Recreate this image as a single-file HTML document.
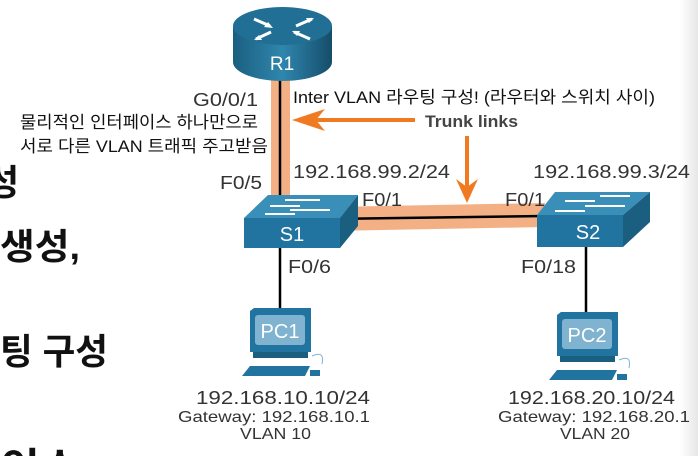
<!DOCTYPE html>
<html><head><meta charset="utf-8"><style>
html,body{margin:0;padding:0;background:#fff;width:698px;height:456px;overflow:hidden}
svg{display:block;overflow:hidden}
text{font-family:"Liberation Sans","Noto Sans CJK KR",sans-serif}
</style></head><body>
<svg width="698" height="456" viewBox="0 0 698 456" xmlns="http://www.w3.org/2000/svg">
<defs>
<linearGradient id="rb" x1="0" x2="1" y1="0" y2="0">
<stop offset="0" stop-color="#1b5f80"/><stop offset="0.5" stop-color="#2f86ad"/><stop offset="1" stop-color="#154d6a"/>
</linearGradient>
<linearGradient id="edge" x1="0" x2="1"><stop offset="0" stop-color="#fff"/><stop offset="1" stop-color="#e6e6e6"/></linearGradient>
</defs>
<rect x="680" y="0" width="18" height="456" fill="url(#edge)"/>
<g font-weight="bold" font-size="36" fill="#111">
<text x="-14" y="195">성</text>
<text x="0" y="259" textLength="80" lengthAdjust="spacingAndGlyphs">생성,</text>
<text x="0" y="364" textLength="108" lengthAdjust="spacingAndGlyphs">팅 구성</text>
<text x="0" y="478" textLength="80" lengthAdjust="spacingAndGlyphs">이스</text>
</g>
<rect x="271" y="80" width="19" height="125" fill="#f2b084"/>
<line x1="280" y1="80" x2="280" y2="205" stroke="#000" stroke-width="2.5"/>
<polygon points="330,207 545,203 545,227 330,231" fill="#f2b084"/>
<line x1="330" y1="219" x2="545" y2="216" stroke="#000" stroke-width="2.5"/>
<line x1="280" y1="245" x2="280" y2="310" stroke="#000" stroke-width="2.5"/>
<line x1="586" y1="245" x2="586" y2="313" stroke="#000" stroke-width="2.5"/>
<rect x="233" y="26" width="99" height="36" fill="url(#rb)"/>
<ellipse cx="282.5" cy="62" rx="49.5" ry="19" fill="url(#rb)"/>
<ellipse cx="282.5" cy="26" rx="49.5" ry="19" fill="#226f96"/>
<g stroke="#fff" stroke-width="3" fill="none">
<line x1="254" y1="19" x2="270" y2="26"/><line x1="296" y1="26" x2="312" y2="19"/>
<line x1="256" y1="39" x2="271" y2="32"/><line x1="294" y1="32" x2="310" y2="39"/>
</g>
<g fill="#fff">
<polygon points="273,28 264,27 268,22"/><polygon points="314,18 306,18 309,23"/>
<polygon points="254,40 262,40 259,35"/><polygon points="292,31 300,31 297,36"/>
</g>
<text x="282" y="70" font-size="19" fill="#fff" text-anchor="middle">R1</text>
<polygon points="244,218 268,195 358,195 340,218" fill="#3a8fb8"/>
<polygon points="340,218 358,195 358,226 340,248" fill="#1b5f80"/>
<rect x="244" y="218" width="96" height="30" fill="#2274a0"/>
<g stroke="#fff" stroke-width="2"><line x1="285" y1="200" x2="320" y2="200"/><line x1="270" y1="206" x2="300" y2="206"/><line x1="290" y1="210" x2="330" y2="210"/><line x1="265" y1="214" x2="295" y2="214"/></g>
<text x="292" y="241" font-size="20" fill="#fff" text-anchor="middle">S1</text>
<polygon points="537,215 555,192 650,192 623,215" fill="#3a8fb8"/>
<polygon points="623,215 650,192 650,222 623,247" fill="#1b5f80"/>
<rect x="537" y="215" width="86" height="32" fill="#2274a0"/>
<g stroke="#fff" stroke-width="2"><line x1="600" y1="196" x2="630" y2="196"/><line x1="565" y1="201" x2="595" y2="201"/><line x1="585" y1="206" x2="625" y2="206"/><line x1="555" y1="211" x2="585" y2="211"/></g>
<text x="588" y="239" font-size="20" fill="#fff" text-anchor="middle">S2</text>
<g transform="translate(250,308)">
<polygon points="0,3 4,0 61,0 61,44 0,44" fill="#2274a0"/>
<rect x="5" y="7" width="50" height="30" rx="3" fill="#7fb3d0"/>
<text x="30" y="30" font-size="20" fill="#fff" text-anchor="middle">PC1</text>
<rect x="3" y="44" width="55" height="6" fill="#1b5f80"/>
<polygon points="-8,68 0,58 60,58 55,68" fill="#2274a0"/>
<rect x="60" y="62" width="10" height="6" fill="#2274a0"/>
<path d="M62,48 Q75,42 72,56" stroke="#7fb3d0" fill="none"/>
</g>
<g transform="translate(557,312)">
<polygon points="0,3 4,0 61,0 61,44 0,44" fill="#2274a0"/>
<rect x="5" y="7" width="50" height="30" rx="3" fill="#7fb3d0"/>
<text x="30" y="30" font-size="20" fill="#fff" text-anchor="middle">PC2</text>
<rect x="3" y="44" width="55" height="6" fill="#1b5f80"/>
<polygon points="-8,68 0,58 60,58 55,68" fill="#2274a0"/>
<rect x="60" y="62" width="10" height="6" fill="#2274a0"/>
<path d="M62,48 Q75,42 72,56" stroke="#7fb3d0" fill="none"/>
</g>
<line x1="415" y1="120" x2="305" y2="120" stroke="#f07a22" stroke-width="4"/>
<polygon points="292,120 325,109 316,120 325,131" fill="#f07a22"/>
<line x1="467" y1="136" x2="467" y2="190" stroke="#f07a22" stroke-width="4"/>
<polygon points="467,203 456,179 467,187 478,179" fill="#f07a22"/>
<g fill="#333" font-size="18">
<text x="193" y="106" textLength="65" lengthAdjust="spacingAndGlyphs">G0/0/1</text>
<text x="220" y="189" textLength="42" lengthAdjust="spacingAndGlyphs">F0/5</text>
<text x="293" y="178" textLength="157" lengthAdjust="spacingAndGlyphs">192.168.99.2/24</text>
<text x="533" y="178" textLength="157" lengthAdjust="spacingAndGlyphs">192.168.99.3/24</text>
<text x="362" y="206" textLength="40" lengthAdjust="spacingAndGlyphs">F0/1</text>
<text x="505" y="206" textLength="40" lengthAdjust="spacingAndGlyphs">F0/1</text>
<text x="288" y="273" textLength="43" lengthAdjust="spacingAndGlyphs">F0/6</text>
<text x="521" y="273" textLength="55" lengthAdjust="spacingAndGlyphs">F0/18</text>
<text x="196" y="404" textLength="174" lengthAdjust="spacingAndGlyphs">192.168.10.10/24</text>
<text x="508" y="404" textLength="167" lengthAdjust="spacingAndGlyphs">192.168.20.10/24</text>
</g>
<g fill="#333" font-size="16">
<text x="178" y="422" textLength="192" lengthAdjust="spacingAndGlyphs">Gateway: 192.168.10.1</text>
<text x="240" y="439" textLength="71" lengthAdjust="spacingAndGlyphs">VLAN 10</text>
<text x="498" y="422" textLength="192" lengthAdjust="spacingAndGlyphs">Gateway: 192.168.20.1</text>
<text x="560" y="439" textLength="70" lengthAdjust="spacingAndGlyphs">VLAN 20</text>
</g>
<g fill="#111" font-size="17">
<text x="293" y="103" textLength="362" lengthAdjust="spacingAndGlyphs">Inter VLAN 라우팅 구성! (라우터와 스위치 사이)</text>
<text x="20" y="128" textLength="238" lengthAdjust="spacingAndGlyphs">물리적인 인터페이스 하나만으로</text>
<text x="20" y="152" textLength="248" lengthAdjust="spacingAndGlyphs">서로 다른 VLAN 트래픽 주고받음</text>
</g>
<text x="425" y="127" font-size="17" font-weight="bold" fill="#444" textLength="93" lengthAdjust="spacingAndGlyphs">Trunk links</text>
</svg>
</body></html>
